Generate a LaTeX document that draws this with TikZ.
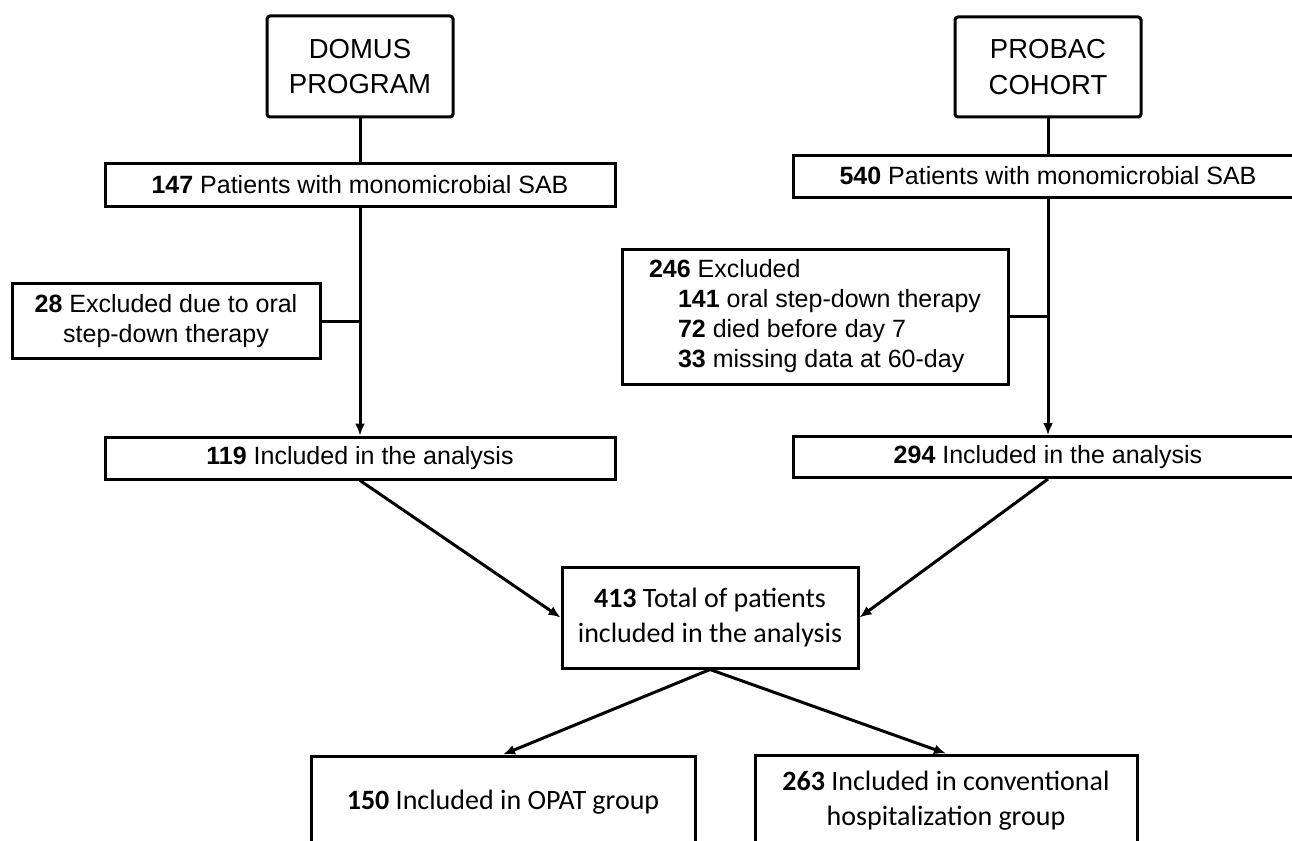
\documentclass[tikz,border=0pt]{standalone}
\usepackage{fontspec}
\setmainfont{Liberation Sans}
\newfontfamily\calibri{Carlito}
\usetikzlibrary{arrows.meta}

\tikzset{
  box/.style={draw, line width=3pt, inner sep=0pt, align=center,
    font=\fontsize{25}{30}\selectfont},
  srcbox/.style={box, rounded corners=3pt, font=\fontsize{27.5}{35.5}\selectfont},
  grpbox/.style={box, font=\calibri\fontsize{28}{35}\selectfont},
  ln/.style={line width=3pt},
  arr/.style={ln, -{Latex[length=12pt,width=10pt]}}
}

\begin{document}
\begin{tikzpicture}[x=1pt,y=-1pt]
  \clip (0,0) rectangle (1292,840);
  \useasboundingbox (0,0) rectangle (1292,840);

  \coordinate (DomC) at (360, 66.5);
  \coordinate (ProC) at (1048, 67);
  \coordinate (P147) at (360, 184.5);
  \coordinate (P540) at (1048, 176);
  \coordinate (E28) at (166, 321);
  \coordinate (E246) at (815, 316.5);
  \coordinate (I119) at (360, 458);
  \coordinate (I294) at (1048, 457);
  \coordinate (T413) at (710, 617.5);
  \coordinate (G150) at (503, 802);
  \coordinate (G263) at (946, 801);

  % sources
  \node[srcbox, minimum width=186pt, minimum height=101pt] (domus) at (DomC) {DOMUS\\PROGRAM};
  \node[srcbox, minimum width=186pt, minimum height=100pt] (probac) at (ProC) {PROBAC\\COHORT};

  \node[box, minimum width=510pt, minimum height=43pt] (pat147) at (P147)
    {\textbf{147} Patients with monomicrobial SAB};
  \node[box, minimum width=510pt, minimum height=42pt] (pat540) at (P540)
    {\textbf{540} Patients with monomicrobial SAB};

  % exclusions
  \node[box, minimum width=308pt, minimum height=75pt] (exc28) at (E28)
    {\textbf{28} Excluded due to oral\\step-down therapy};
  \node[box, minimum width=386pt, minimum height=135pt, align=left] (exc246) at (E246)
    {\textbf{246} Excluded\\
     \hspace*{29pt}\textbf{141} oral step-down therapy\\
     \hspace*{29pt}\textbf{72} died before day 7\\
     \hspace*{29pt}\textbf{33} missing data at 60-day};

  \node[box, minimum width=510pt, minimum height=42pt] (inc119) at (I119)
    {\textbf{119} Included in the analysis};
  \node[box, minimum width=510pt, minimum height=41pt] (inc294) at (I294)
    {\textbf{294} Included in the analysis};

  % merged and groups
  \node[grpbox, minimum width=296pt, minimum height=101pt] (tot413) at (T413)
    {\textbf{413} Total of patients\\included in the analysis};
  \node[grpbox, minimum width=384pt, minimum height=92pt] (opat150) at (G150)
    {\textbf{150} Included in OPAT group};
  \node[grpbox, minimum width=382pt, minimum height=92pt] (conv263) at (G263)
    {\textbf{263} Included in conventional\\hospitalization group};

  \draw[ln] (domus) -- (pat147);
  \draw[ln] (probac) -- (pat540);
  \draw[arr] (pat147) -- (inc119);
  \draw[arr] (pat540) -- (inc294);
  \draw[ln] (exc28) -- (exc28 -| pat147);
  \draw[ln] (exc246) -- (exc246 -| pat540);

  \draw[arr] (inc119.south) -- (tot413.west);
  \draw[arr] (inc294.south) -- (tot413.east);
  \draw[arr] (tot413.south) -- (opat150.north);
  \draw[arr] (tot413.south) -- (conv263.north);
\end{tikzpicture}
\end{document}
